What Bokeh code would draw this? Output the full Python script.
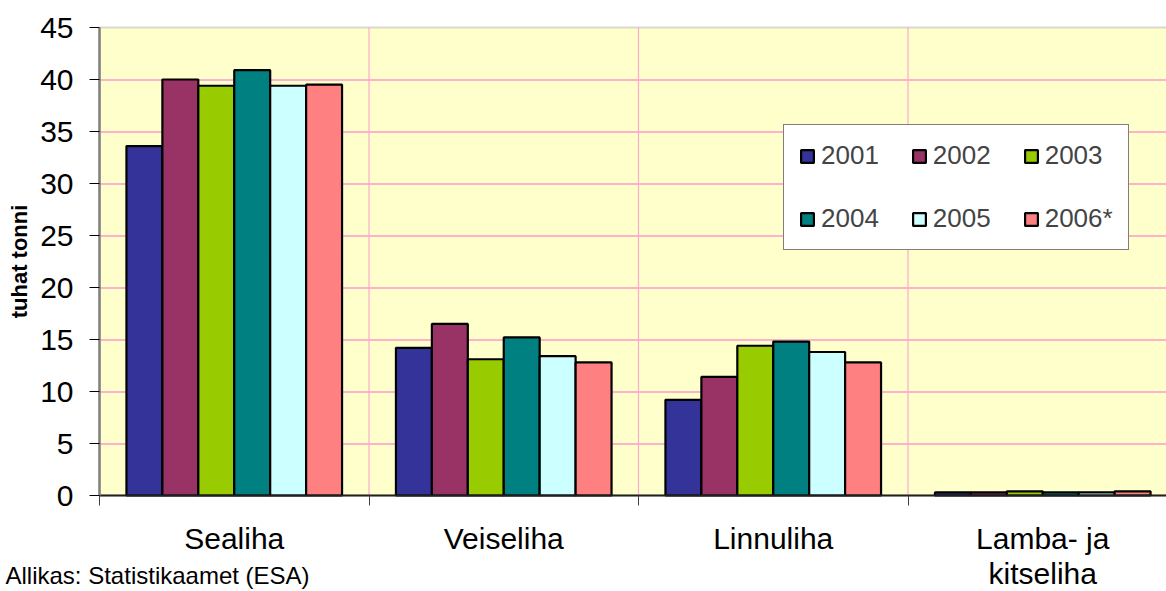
from bokeh.plotting import figure
from bokeh.models import (ColumnDataSource, FixedTicker, Legend, LegendItem,
                          Label, Range1d, BoxAnnotation)
from bokeh.embed import file_html
from bokeh.resources import INLINE

categories = ["Sealiha", "Veiseliha", "Linnuliha", "Lamba- ja\nkitseliha"]
years = ["2001", "2002", "2003", "2004", "2005", "2006*"]
v2001 = [33.6, 14.2, 9.2, 0.3]
v2002 = [40.0, 16.5, 11.4, 0.3]
v2003 = [39.4, 13.1, 14.4, 0.4]
v2004 = [40.9, 15.2, 14.8, 0.3]
v2005 = [39.4, 13.4, 13.8, 0.3]
v2006 = [39.5, 12.8, 12.8, 0.4]
series = [v2001, v2002, v2003, v2004, v2005, v2006]
colors = ["#333399", "#993366", "#99CC00", "#008080", "#CCFFFF", "#FF8080"]
y_ticks = [0, 5, 10, 15, 20, 25, 30, 35, 40, 45]
y_label = "tuhat tonni"
source_note = "Allikas: Statistikaamet (ESA)"

FONT = "Liberation Sans"
W, H = 1166, 591
# plot-area geometry (pixels on the canvas)
PA_LEFT, PA_TOP, PA_BOTTOM = 99, 27, 495
CAT_PX = 269.5
Y_MAX = 45
px_per_y = (PA_BOTTOM - PA_TOP) / Y_MAX
x_start = -PA_LEFT / CAT_PX
x_end = (W - PA_LEFT) / CAT_PX
y_start = -(H - PA_BOTTOM) / px_per_y
y_end = Y_MAX + PA_TOP / px_per_y
half_px = 0.5 / px_per_y  # keeps 1px gridlines crisp

p = figure(width=W, height=H, output_backend="svg", toolbar_location=None,
           x_range=Range1d(x_start, x_end), y_range=Range1d(y_start, y_end),
           min_border=0, min_border_left=0, min_border_right=0,
           min_border_top=0, min_border_bottom=0)
p.outline_line_color = None
p.background_fill_color = "white"
p.border_fill_color = "white"
p.xgrid.visible = False
p.ygrid.visible = False

# plot area background with grey top border
p.add_layout(BoxAnnotation(left=0, right=x_end + 0.1, bottom=0, top=Y_MAX,
                           fill_color="#FFFFCC", fill_alpha=1,
                           line_color="#808080", line_width=2, level="underlay"))

# gridlines restricted to the plot area
hg = [t for t in y_ticks if 0 < t < Y_MAX]
p.segment(x0=[0] * len(hg), x1=[x_end + 0.1] * len(hg),
          y0=[t - half_px for t in hg], y1=[t - half_px for t in hg],
          line_color="#FF99CC", line_width=1.3)
vg = list(range(1, len(categories)))
p.segment(x0=vg, x1=vg, y0=[0] * len(vg), y1=[Y_MAX] * len(vg),
          line_color="#FFA8D0", line_width=1.2)

group = 0.8
w = group / len(years)
renderers = {}
for j, (yr, vals, col) in enumerate(zip(years, series, colors)):
    xs = [i + (1 - group) / 2 + (j + 0.5) * w for i in range(len(categories))]
    src = ColumnDataSource(dict(x=xs, top=vals))
    renderers[yr] = p.vbar(x="x", top="top", width=w, bottom=0, source=src,
                           fill_color=col, line_color="black", line_width=2.2)

# x axis at y = 0
xa = p.xaxis[0]
xa.fixed_location = 0
xa.bounds = (0, x_end)
xa.ticker = FixedTicker(ticks=[i + 0.5 for i in range(len(categories))],
                        minor_ticks=list(range(len(categories))))
xa.major_label_overrides = {i + 0.5: c for i, c in enumerate(categories)}
xa.major_tick_line_color = None
xa.major_tick_out = 0
xa.major_tick_in = 0
xa.minor_tick_out = 10
xa.minor_tick_in = 0
xa.minor_tick_line_color = "#404040"
xa.axis_line_color = "#202020"
xa.axis_line_width = 2
xa.major_label_text_font = FONT
xa.major_label_text_font_size = "30px"
xa.major_label_text_line_height = 1.08
xa.major_label_text_color = "black"
xa.major_label_standoff = 16

# y axis at x = 0
ya = p.yaxis[0]
ya.fixed_location = 0
ya.bounds = (0, Y_MAX)
ya.ticker = FixedTicker(ticks=y_ticks)
ya.minor_tick_line_color = None
ya.major_tick_out = 10
ya.major_tick_in = 0
ya.major_tick_line_color = "black"
ya.axis_line_color = "#808080"
ya.axis_line_width = 2.5
ya.major_label_text_font = FONT
ya.major_label_text_font_size = "30px"
ya.major_label_text_color = "black"
ya.major_label_standoff = 16
ya.axis_label = y_label
ya.axis_label_text_font = FONT
ya.axis_label_text_font_size = "22px"
ya.axis_label_text_font_style = "bold"
ya.axis_label_text_color = "black"
ya.axis_label_standoff = 5

# legend: row-major appearance (Bokeh fills columns first)
order = ["2001", "2004", "2002", "2005", "2003", "2006*"]
legend = Legend(items=[LegendItem(label=yr, renderers=[renderers[yr]]) for yr in order],
                location=(783, H - 250), ncols=3,
                label_text_font=FONT, label_text_font_size="26px",
                glyph_width=16, glyph_height=16, label_standoff=6,
                spacing=32, padding=15, margin=0,
                border_line_color="black", border_line_width=1,
                background_fill_color="white", background_fill_alpha=1)
p.add_layout(legend, "center")

p.add_layout(Label(x=5, y=16, x_units="screen", y_units="screen",
                   text=source_note, text_font=FONT, text_font_size="24px",
                   text_baseline="middle", text_color="black"))

open("out.html", "w").write(file_html(p, INLINE))
